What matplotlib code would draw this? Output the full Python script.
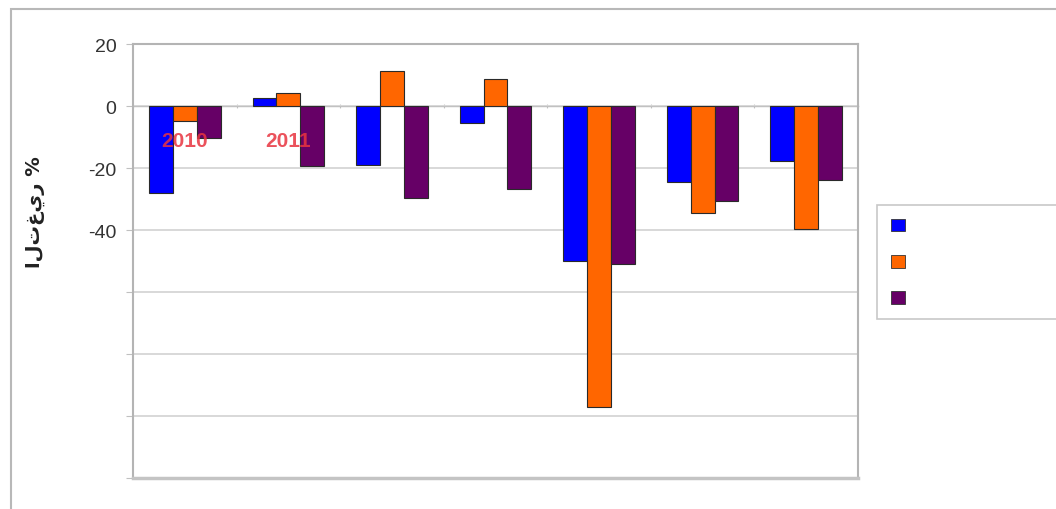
import matplotlib
matplotlib.use("Agg")
import matplotlib.pyplot as plt
from matplotlib.patches import Patch, Rectangle
import numpy as np

plt.rcParams["font.family"] = ["Liberation Sans", "DejaVu Sans"]

# values (percent change)
groups = np.arange(7)
series_blue = [-28, 2.5, -19, -5.5, -50, -24.5, -17.7]
series_orange = [-4.8, 4.2, 11.3, 8.7, -97, -34.5, -39.7]
series_purple = [-10.3, -19.4, -29.7, -26.8, -51, -30.6, -23.9]
colors = ["#0000ff", "#ff6600", "#660066"]
year_labels = ["2010", "2011"]
year_label_y = -11
y_ticks = [20, 0, -20, -40, -60, -80, -100, -120]
y_tick_labels = ["20", "0", "-20", "-40", "", "", "", ""]
ylabel = "التغير %"

fig = plt.figure(figsize=(10.56, 5.10), dpi=100)
fig.patch.set_facecolor("white")

# outer chart-area border (left and top edges visible)
fig.add_artist(Rectangle((11 / 1056, -0.1), 1.2, 1 - 10 / 510 + 0.1,
                         transform=fig.transFigure, fill=False,
                         edgecolor="#b8b8b8", linewidth=1.5))

ax = fig.add_axes([133 / 1056, 1 - 479 / 510, (858 - 133) / 1056, (479 - 45) / 510])

width = 0.23
for i, (vals, c) in enumerate(zip([series_blue, series_orange, series_purple], colors)):
    ax.bar(groups + (i - 1) * width, vals, width, color=c,
           edgecolor="#2a2a2a", linewidth=0.8, zorder=3)

for i, lab in enumerate(year_labels):
    ax.text(groups[i], year_label_y, lab, color="#e8343f", fontsize=15,
            fontweight="bold", ha="center", va="center", zorder=4, alpha=0.85)

ax.set_xlim(-0.5, len(groups) - 0.5)
ax.set_ylim(-120, 20)
ax.set_yticks(y_ticks)
ax.set_yticklabels(y_tick_labels)
ax.set_xticks([])
ax.tick_params(axis="y", length=5, color="#c0c0c0", labelsize=14,
               labelcolor="#333333", pad=7)
ax.yaxis.grid(True, color="#d6d6d6", linewidth=1.3, zorder=0)
ax.set_axisbelow(True)
for s in ax.spines.values():
    s.set_color("#b4b4b4")
    s.set_linewidth(1.5)
ax.spines["bottom"].set_linewidth(2.5)
ax.spines["bottom"].set_color("#c4c4c4")

# category axis crossing at zero
ymin, ymax = ax.get_ylim()
sec = ax.secondary_xaxis((0 - ymin) / (ymax - ymin))
sec.set_xticks(np.arange(len(groups) + 1) - 0.5)
sec.set_xticklabels([])
sec.tick_params(length=3, color="#c8c8c8", direction="inout")
sec.spines["bottom"].set_color("#d6d6d6")
sec.spines["bottom"].set_linewidth(1.3)

fig.text(35 / 1056, 1 - 212 / 510, ylabel, rotation=90, ha="center",
         va="center", fontsize=14, fontweight="bold", color="#222222",
         family=["DejaVu Sans"])

handles = [Patch(facecolor=c, edgecolor="#333333", linewidth=0.6) for c in colors]
leg = fig.legend(handles, ["", "", ""], loc="upper left",
                 bbox_to_anchor=(877 / 1056, 1 - 318 / 510, 0.3, 112 / 510),
                 mode="expand", fontsize=10, handlelength=1.0,
                 handleheight=1.0, labelspacing=1.6, borderpad=1.0,
                 borderaxespad=0, fancybox=False, framealpha=1)
leg.get_frame().set_edgecolor("#c8c8c8")
leg.get_frame().set_linewidth(1.2)

fig.savefig("out.png", dpi=100, facecolor="white")
